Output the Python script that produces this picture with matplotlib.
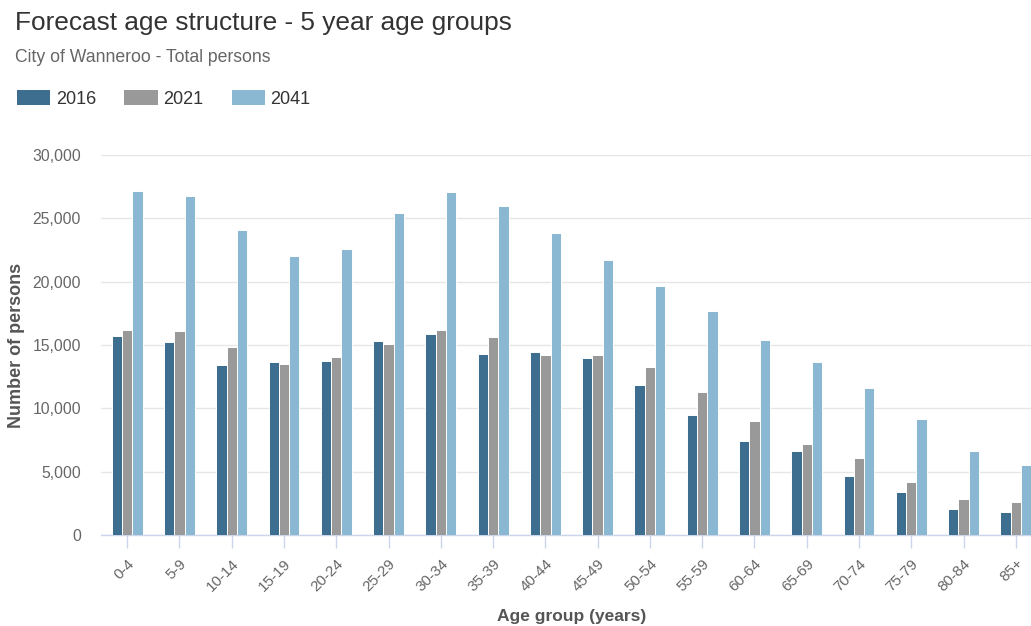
import matplotlib

matplotlib.use("Agg")
import matplotlib.pyplot as plt
import numpy as np
from matplotlib.patches import Patch
from matplotlib.ticker import FuncFormatter

plt.rcParams["font.family"] = ["Liberation Sans", "DejaVu Sans"]

# Datos (personas por grupo de edad)
AGE_GROUPS = ["0-4", "5-9", "10-14", "15-19", "20-24", "25-29", "30-34", "35-39",
              "40-44", "45-49", "50-54", "55-59", "60-64", "65-69", "70-74",
              "75-79", "80-84", "85+"]
YEARS = ["2016", "2021", "2041"]
POP_2016 = [15740, 15210, 13390, 13630, 13740, 15320, 15870, 14290,
            14420, 13950, 11810, 9470, 7450, 6660, 4630, 3420, 2080, 1840]
POP_2021 = [16210, 16080, 14870, 13500, 14080, 15080, 16210, 15630,
            14180, 14180, 13290, 11260, 9000, 7210, 6110, 4180, 2840, 2630]
POP_2041 = [27190, 26740, 24080, 22030, 22610, 25420, 27080, 25950,
            23810, 21710, 19680, 17660, 15420, 13630, 11600, 9130, 6660, 5530]
COLORS = ["#3d6e8f", "#999999", "#8ab8d2"]

W, H = 1031, 626


def main() -> None:
    fig = plt.figure(figsize=(W / 100, H / 100), dpi=100)
    # el área del gráfico se sale un poco por la derecha, como en el original
    ax = fig.add_axes([101 / W, 91 / H, 941 / W, 380 / H])

    x = np.arange(len(AGE_GROUPS))
    bw = 0.197
    for i, (vals, col) in enumerate(zip([POP_2016, POP_2021, POP_2041], COLORS)):
        ax.bar(x + (i - 1) * bw, vals, width=bw, color=col, edgecolor="white",
               linewidth=0.7, zorder=3)

    ax.set_xlim(-0.5, len(AGE_GROUPS) - 0.5)
    ax.set_ylim(0, 30000)
    ax.set_yticks(np.arange(0, 30001, 5000))
    ax.yaxis.set_major_formatter(FuncFormatter(lambda v, p: f"{int(v):,}"))
    ax.grid(axis="y", color="#e6e6e6", linewidth=1.0, zorder=0)
    ax.set_axisbelow(True)

    for s in ["top", "right", "left"]:
        ax.spines[s].set_visible(False)
    ax.spines["bottom"].set_color("#ccd6eb")
    ax.spines["bottom"].set_linewidth(1.0)

    ax.set_xticks(x)
    ax.set_xticklabels(AGE_GROUPS, rotation=45, ha="right", va="top",
                       rotation_mode="anchor", fontsize=11, color="#666666")
    ax.tick_params(axis="x", length=9.4, width=1.0, color="#ccd6eb", pad=6)
    ax.tick_params(axis="y", length=0, pad=14.4, labelsize=11.3, labelcolor="#666666")

    ax.set_xlabel("Age group (years)", fontsize=12.5, fontweight="bold",
                  color="#555555")
    ax.xaxis.set_label_coords((572 - 101) / 941, -(609 - 535) / 380)
    ax.set_ylabel("Number of persons", fontsize=13, fontweight="bold",
                  color="#555555")
    ax.yaxis.set_label_coords(-(101 - 25) / 941, 0.5)

    fig.text(15 / W, 1 - 23 / H, "Forecast age structure - 5 year age groups",
             fontsize=18.9, color="#333333", va="center", ha="left")
    fig.text(15 / W, 1 - 58 / H, "City of Wanneroo - Total persons",
             fontsize=12.7, color="#666666", va="center", ha="left")

    handles = [Patch(facecolor=c, edgecolor="none") for c in COLORS]
    fig.legend(handles, YEARS, loc="center left", bbox_to_anchor=(10 / W, 1 - 99 / H),
               ncol=3, frameon=False, fontsize=13, handlelength=1.83,
               handleheight=0.89, handletextpad=0.33, columnspacing=1.55,
               labelcolor="#333333", borderaxespad=0)

    fig.savefig("out.png", dpi=100)


if __name__ == "__main__":
    main()
